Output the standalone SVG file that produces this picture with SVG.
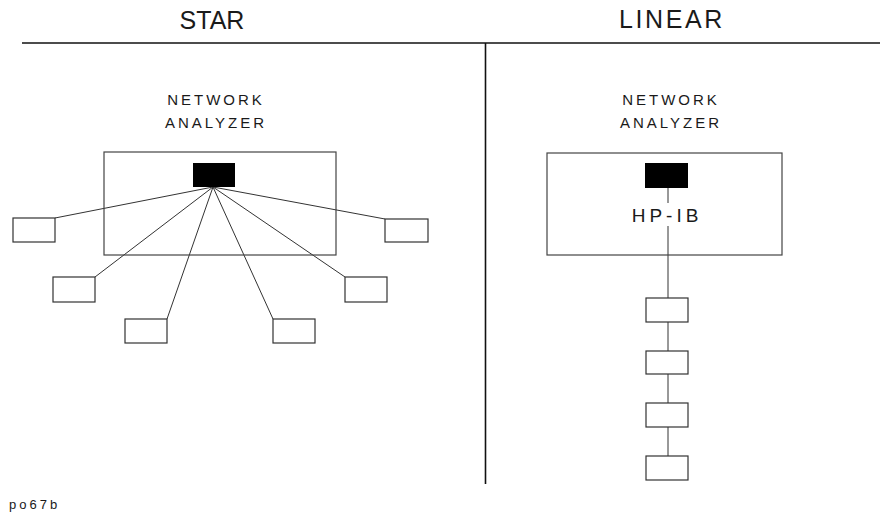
<svg xmlns="http://www.w3.org/2000/svg" width="880" height="514" viewBox="0 0 880 514">
<style>
text{font-family:"Liberation Sans",Arial,sans-serif;fill:#1a1a1a}
.title{font-size:25px}
.lbl{font-size:15px;letter-spacing:3px}
.frame{fill:none;stroke:#444;stroke-width:1.2}
.dev{fill:#fff;stroke:#333;stroke-width:1.2}
.port{fill:#000;stroke:#000;stroke-width:1}
.wire{fill:none;stroke:#333;stroke-width:1}
.div{stroke:#111;stroke-width:1.6;fill:none}
</style>
<rect width="880" height="514" fill="#fff"/>
<g id="dividers">
<line class="div" x1="22" y1="43" x2="880" y2="43"/>
<line class="div" x1="485.5" y1="43" x2="485.5" y2="484"/>
</g>
<text class="title" x="212" y="29" text-anchor="middle">STAR</text>
<text class="title" x="672" y="28" text-anchor="middle" style="letter-spacing:2.6px">LINEAR</text>
<g id="connectors">
<line class="wire" x1="213" y1="187" x2="55" y2="218"/>
<line class="wire" x1="213" y1="187" x2="95" y2="277"/>
<line class="wire" x1="213" y1="187" x2="167" y2="319"/>
<line class="wire" x1="213" y1="187" x2="273" y2="319"/>
<line class="wire" x1="213" y1="187" x2="345" y2="277"/>
<line class="wire" x1="213" y1="187" x2="385" y2="219"/>
<line class="wire" x1="668" y1="188" x2="668" y2="203"/>
<line class="wire" x1="668" y1="226" x2="668" y2="298"/>
<line class="wire" x1="668" y1="322" x2="668" y2="351"/>
<line class="wire" x1="668" y1="374" x2="668" y2="403"/>
<line class="wire" x1="668" y1="427" x2="668" y2="456"/>
</g>
<g id="star-analyzer">
<text class="lbl" x="216" y="105" text-anchor="middle">NETWORK</text>
<text class="lbl" x="216" y="128" text-anchor="middle">ANALYZER</text>
<rect class="frame" x="104" y="152" width="232" height="103"/>
<rect class="port" x="193.5" y="163.5" width="41" height="23"/>
</g>
<g id="star-dev1"><rect class="dev" x="13" y="218" width="42" height="24"/></g>
<g id="star-dev2"><rect class="dev" x="53" y="277" width="42" height="25"/></g>
<g id="star-dev3"><rect class="dev" x="125" y="319" width="42" height="24"/></g>
<g id="star-dev4"><rect class="dev" x="273" y="319" width="42" height="24"/></g>
<g id="star-dev5"><rect class="dev" x="345" y="277" width="42" height="25"/></g>
<g id="star-dev6"><rect class="dev" x="385" y="219" width="43" height="23"/></g>
<g id="linear-analyzer">
<text class="lbl" x="671" y="105" text-anchor="middle">NETWORK</text>
<text class="lbl" x="671" y="128" text-anchor="middle">ANALYZER</text>
<rect class="frame" x="547" y="153" width="235" height="102"/>
<rect class="port" x="645.5" y="163.5" width="42" height="24"/>
<text x="667" y="222" text-anchor="middle" style="font-size:19px;letter-spacing:4px">HP-IB</text>
</g>
<g id="lin-dev1"><rect class="dev" x="646" y="298" width="42" height="24"/></g>
<g id="lin-dev2"><rect class="dev" x="646" y="351" width="42" height="23"/></g>
<g id="lin-dev3"><rect class="dev" x="646" y="403" width="42" height="24"/></g>
<g id="lin-dev4"><rect class="dev" x="646" y="456" width="42" height="24"/></g>
<text x="9" y="509" style="font-size:13px;letter-spacing:3px">po67b</text>
</svg>
